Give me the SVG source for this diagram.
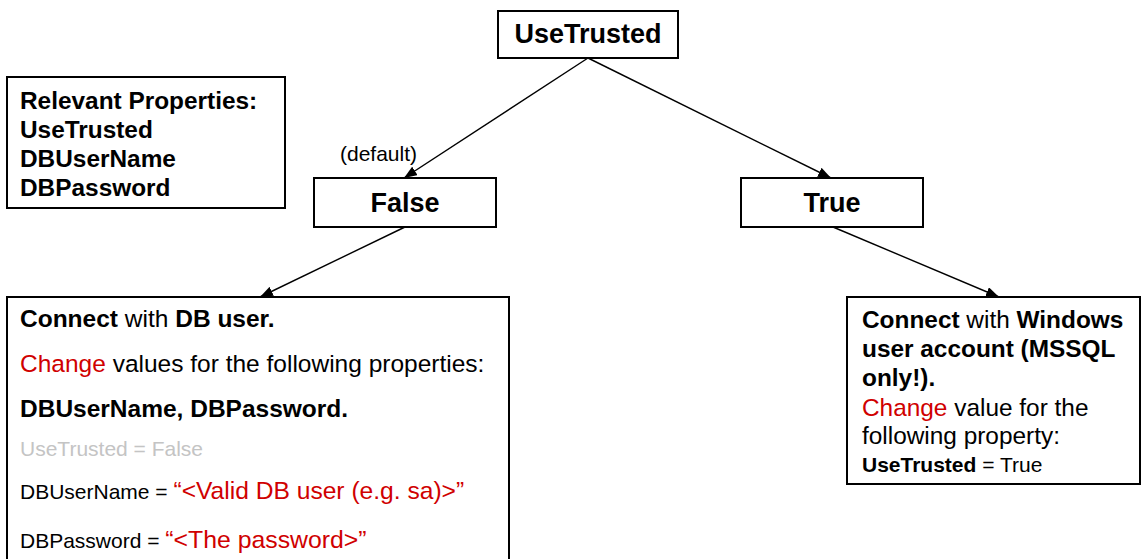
<svg xmlns="http://www.w3.org/2000/svg" width="1142" height="559" viewBox="0 0 1142 559">
<style>
text{font-family:"Liberation Sans",Arial,sans-serif;fill:#000}
.box{fill:#fff;stroke:#000;stroke-width:2}
.node{font-weight:bold;font-size:27px;text-anchor:middle}
.b{font-weight:bold}
.red{fill:#d00000}
.gray{fill:#c4c4c4}
.edge{stroke:#000;stroke-width:1.4;fill:none;marker-end:url(#arr)}
</style>
<defs>
<marker id="arr" viewBox="0 0 13 10" refX="13" refY="5" markerWidth="13" markerHeight="10" markerUnits="userSpaceOnUse" orient="auto">
<path d="M0,0 L13,5 L0,10 Z" fill="#000"/>
</marker>
</defs>
<g id="connectors">
<line class="edge" x1="588" y1="58" x2="404" y2="178"/>
<line class="edge" x1="588" y1="58" x2="831" y2="178"/>
<line class="edge" x1="405" y1="227" x2="260" y2="297"/>
<line class="edge" x1="833" y1="227" x2="999" y2="297"/>
</g>
<g id="node-usetrusted">
<rect class="box" x="498" y="11" width="180" height="47"/>
<text class="node" x="588" y="43">UseTrusted</text>
</g>
<g id="node-relevant">
<rect class="box" x="7" y="77" width="278" height="131"/>
<text class="b" font-size="24.4" x="20" y="109">Relevant Properties:</text>
<text class="b" font-size="24.4" x="20" y="138">UseTrusted</text>
<text class="b" font-size="24.4" x="20" y="167">DBUserName</text>
<text class="b" font-size="24.4" x="20" y="196">DBPassword</text>
</g>
<g id="node-false">
<rect class="box" x="314" y="178" width="182" height="49"/>
<text class="node" x="405" y="212">False</text>
<text font-size="21" x="340" y="161">(default)</text>
</g>
<g id="node-true">
<rect class="box" x="741" y="178" width="182" height="49"/>
<text class="node" x="832" y="212">True</text>
</g>
<g id="node-dbuser">
<rect class="box" x="7" y="297" width="502" height="275"/>
<text font-size="24.5" x="20" y="327"><tspan class="b">Connect</tspan> with <tspan class="b">DB user.</tspan></text>
<text font-size="24.5" x="20" y="372"><tspan class="red">Change</tspan> values for the following properties:</text>
<text class="b" font-size="24.5" x="20" y="417">DBUserName, DBPassword.</text>
<text class="gray" font-size="21" x="20" y="456">UseTrusted = False</text>
<text font-size="21" x="20" y="499">DBUserName = <tspan class="red" font-size="24.6">“&lt;Valid DB user (e.g. sa)&gt;”</tspan></text>
<text font-size="21" x="20" y="548">DBPassword = <tspan class="red" font-size="24.8">“&lt;The password&gt;”</tspan></text>
</g>
<g id="node-windows">
<rect class="box" x="847" y="297" width="293" height="187"/>
<text font-size="24.4" x="862" y="328"><tspan class="b">Connect</tspan> with <tspan class="b">Windows</tspan></text>
<text class="b" font-size="24.4" x="862" y="357">user account (MSSQL</text>
<text class="b" font-size="24.4" x="862" y="386">only!).</text>
<text font-size="24.4" x="862" y="416"><tspan class="red">Change</tspan> value for the</text>
<text font-size="24.4" x="862" y="444">following property:</text>
<text font-size="21" x="862" y="472"><tspan class="b">UseTrusted</tspan> = True</text>
</g>
</svg>
